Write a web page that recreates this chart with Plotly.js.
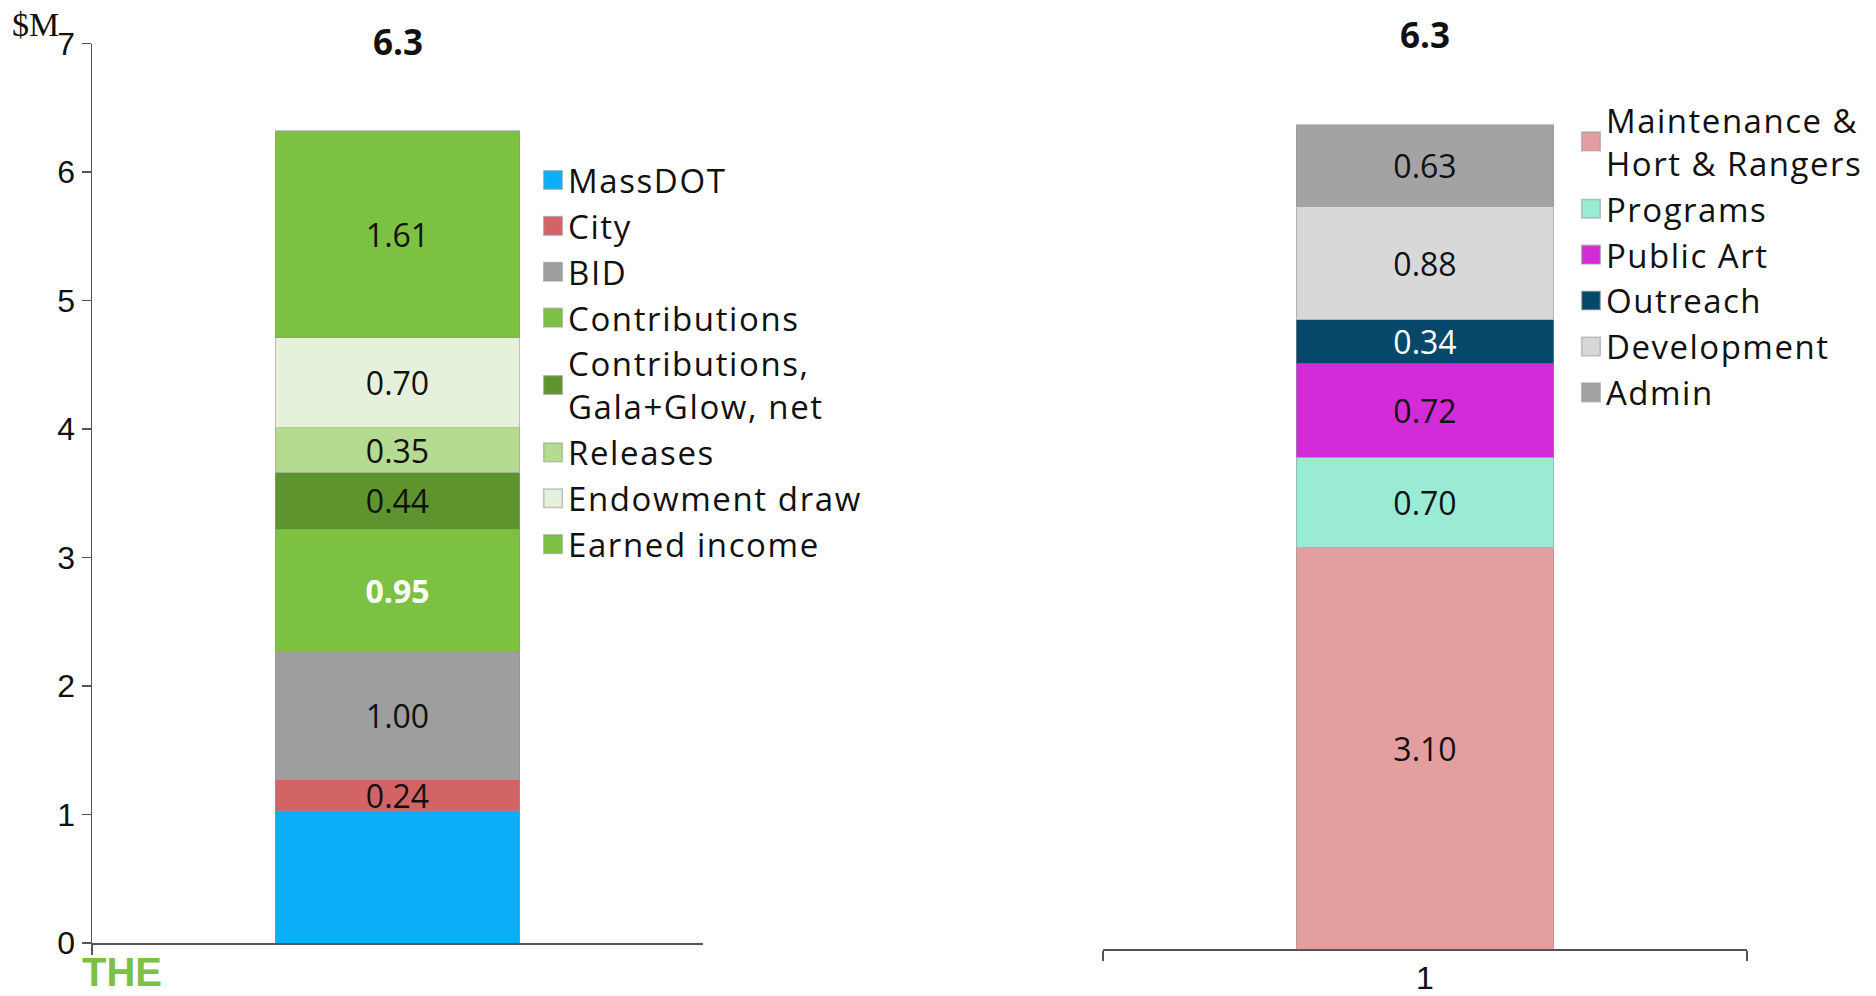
<!DOCTYPE html>
<html>
<head>
<meta charset="utf-8">
<script src="https://cdn.plot.ly/plotly-3.0.1.min.js"></script>
<style>
  html, body { margin: 0; padding: 0; background: #ffffff; }
  #chart { width: 1876px; height: 996px; }
</style>
</head>
<body>
<div id="chart"></div>
<script>
// ---------- data ----------
const categories = ['1'];

const leftNames = ['MassDOT', 'City', 'BID', 'Contributions', 'Contributions,<br>Gala+Glow, net', 'Releases', 'Endowment draw', 'Earned income'];
const leftValues = [1.03, 0.24, 1.00, 0.95, 0.44, 0.35, 0.70, 1.61];
const leftLabeled = [false, true, true, true, true, true, true, true];

const rightNames = ['Maintenance &<br>Hort & Rangers', 'Programs', 'Public Art', 'Outreach', 'Development', 'Admin'];
const rightValues = [3.10, 0.70, 0.72, 0.34, 0.88, 0.63];

const totals = [6.3, 6.3];
const yTicks = [0, 1, 2, 3, 4, 5, 6, 7];
const unitLabel = '$M';
const logoText = 'THE';

// ---------- styles ----------
const leftColors = ['#0BAFF8', '#D36466', '#9E9E9E', '#7DC142', '#5E942E', '#B4DB8F', '#E5F1DA', '#7DC142'];
const leftTextColors = ['#111111', '#111111', '#111111', '#ffffff', '#111111', '#111111', '#111111', '#111111'];
const leftTextWeights = ['normal', 'normal', 'normal', 'bold', 'normal', 'normal', 'normal', 'normal'];
const rightColors = ['#E39FA0', '#99EBD3', '#D42BD8', '#05486A', '#D8D8D8', '#A3A3A3'];
const rightTextColors = ['#111111', '#111111', '#111111', '#ffffff', '#111111', '#111111'];

const W = 1876, H = 996;
const labelFont = 'Open Sans, sans-serif';
const tickFont = 'Liberation Sans, Arial, sans-serif';

// widen legend text a little (the original uses a wider typeface)
function spaced(name, px) {
  return name.split('<br>').map(function (line) {
    return '<span style="letter-spacing:' + px + 'px">' + line + '</span>';
  }).join('<br>');
}

const traces = [];
leftNames.forEach((name, i) => {
  traces.push({
    type: 'bar',
    name: spaced(name, 1.6),
    x: categories,
    y: [leftValues[i]],
    xaxis: 'x', yaxis: 'y',
    legend: 'legend',
    width: 0.4,
    marker: { color: leftColors[i], line: { color: 'rgba(150,150,150,0.55)', width: 1 } },
    texttemplate: leftLabeled[i] ? '%{y:.2f}' : '',
    textposition: leftLabeled[i] ? 'inside' : 'none',
    insidetextanchor: 'middle',
    textangle: 0,
    constraintext: 'none',
    insidetextfont: { family: labelFont, size: 32, color: leftTextColors[i], weight: leftTextWeights[i] },
    hoverinfo: 'y'
  });
});
rightNames.forEach((name, i) => {
  traces.push({
    type: 'bar',
    name: spaced(name, 1.5),
    x: categories,
    y: [rightValues[i]],
    xaxis: 'x2', yaxis: 'y2',
    legend: 'legend2',
    width: 0.4,
    marker: { color: rightColors[i], line: { color: 'rgba(150,150,150,0.55)', width: 1 } },
    texttemplate: '%{y:.2f}',
    textposition: 'inside',
    insidetextanchor: 'middle',
    textangle: 0,
    constraintext: 'none',
    insidetextfont: { family: labelFont, size: 32, color: rightTextColors[i] },
    hoverinfo: 'y'
  });
});

const axisLine = '#555555';
const legendFont = { family: labelFont, size: 33, color: '#111111' };
const layout = {
  width: W, height: H,
  margin: { l: 0, r: 0, t: 0, b: 0, autoexpand: false },
  paper_bgcolor: '#ffffff',
  plot_bgcolor: 'rgba(0,0,0,0)',
  barmode: 'stack',
  showlegend: true,
  xaxis: {
    domain: [92 / W, 703 / W], anchor: 'y', type: 'category', range: [-0.5, 0.5],
    showline: true, linecolor: axisLine, linewidth: 1.5,
    ticks: 'outside', tickson: 'boundaries', ticklen: 10, tickwidth: 1.5, tickcolor: axisLine,
    showticklabels: false, showgrid: false, zeroline: false, fixedrange: true
  },
  yaxis: {
    domain: [53 / H, 952.5 / H], anchor: 'x', range: [0, 7],
    tickvals: yTicks, ticktext: yTicks.map(String),
    showline: true, linecolor: axisLine, linewidth: 1.5,
    ticks: 'outside', ticklen: 9, tickwidth: 1.5, tickcolor: axisLine,
    tickfont: { family: tickFont, size: 32, color: '#111111' },
    showgrid: false, zeroline: false, fixedrange: true
  },
  xaxis2: {
    domain: [1103 / W, 1747 / W], anchor: 'y2', type: 'category', range: [-0.5, 0.5],
    showline: true, linecolor: axisLine, linewidth: 1.5,
    ticks: 'outside', tickson: 'boundaries', ticklen: 10, tickwidth: 1.5, tickcolor: axisLine,
    tickfont: { family: tickFont, size: 32, color: '#111111' },
    showgrid: false, zeroline: false, fixedrange: true
  },
  yaxis2: {
    domain: [47 / H, 953 / H], anchor: 'x2', range: [0, 7],
    visible: false, showgrid: false, zeroline: false, fixedrange: true
  },
  legend: {
    x: 528 / W, xanchor: 'left', y: 1 - 152 / H, yanchor: 'top',
    traceorder: 'normal', bgcolor: 'rgba(0,0,0,0)', borderwidth: 0,
    font: legendFont, itemclick: false, itemdoubleclick: false
  },
  legend2: {
    x: 1566 / W, xanchor: 'left', y: 1 - 92 / H, yanchor: 'top',
    traceorder: 'normal', bgcolor: 'rgba(0,0,0,0)', borderwidth: 0,
    font: legendFont, itemclick: false, itemdoubleclick: false
  },
  annotations: [
    {
      xref: 'x', yref: 'y domain', x: 0, y: 1, xanchor: 'center', yanchor: 'middle', yshift: 1.5,
      text: totals[0].toFixed(1), showarrow: false,
      font: { family: labelFont, size: 35, color: '#111111', weight: 'bold' }
    },
    {
      xref: 'x2', yref: 'y2 domain', x: 0, y: 1, xanchor: 'center', yanchor: 'middle', yshift: 8,
      text: totals[1].toFixed(1), showarrow: false,
      font: { family: labelFont, size: 35, color: '#111111', weight: 'bold' }
    },
    {
      xref: 'paper', yref: 'paper', x: 10 / W, y: 1 - 25 / H, xanchor: 'left', yanchor: 'middle',
      text: unitLabel, showarrow: false,
      font: { family: 'Liberation Serif, Times New Roman, serif', size: 34, color: '#111111' }
    },
    {
      xref: 'paper', yref: 'paper', x: 80 / W, y: 0, xanchor: 'left', yanchor: 'bottom', yshift: 0,
      text: logoText, showarrow: false,
      font: { family: 'Liberation Sans, Arial, sans-serif', size: 40, color: '#7DC142', weight: 'bold' }
    }
  ]
};

Plotly.newPlot('chart', traces, layout, { displayModeBar: false, staticPlot: true }).then(function () {
  document.querySelectorAll('#chart .legendpoints path').forEach(function (el) {
    var t = el.getAttribute('transform') || '';
    el.setAttribute('transform', t + ' translate(5,0) scale(1.55)');
  });
});
</script>
</body>
</html>
